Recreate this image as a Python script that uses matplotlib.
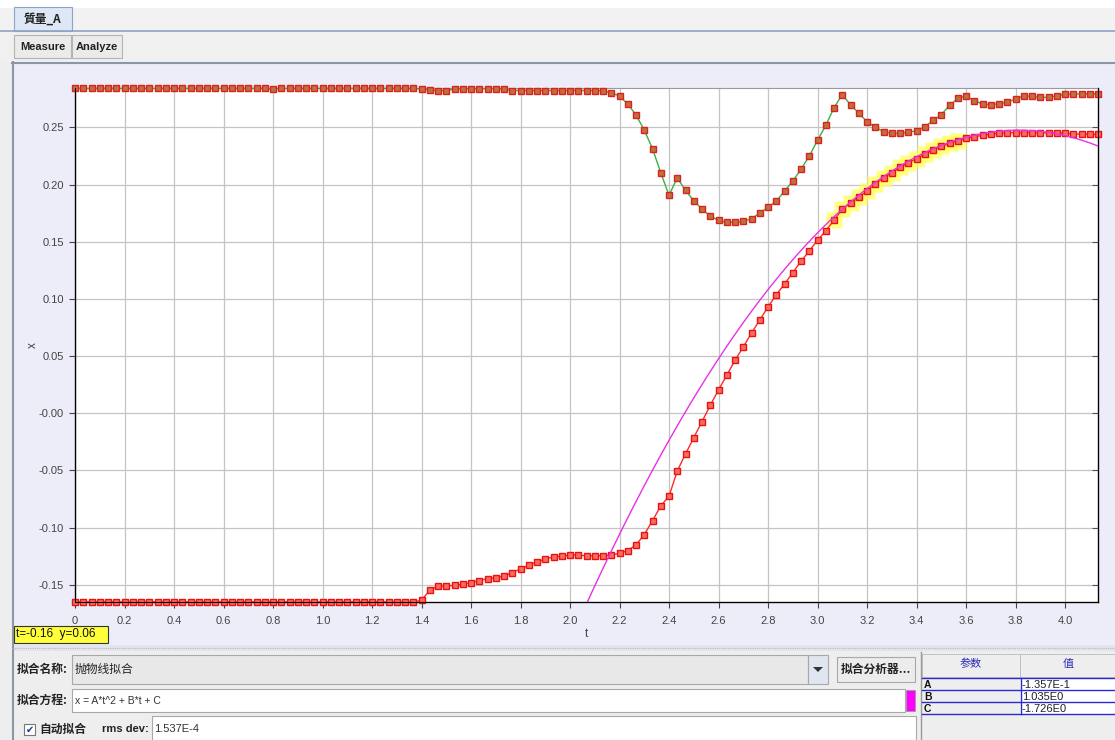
import numpy as np
import matplotlib
matplotlib.use("Agg")
import matplotlib.pyplot as plt
from matplotlib.patches import Rectangle, Polygon

plt.rcParams['font.family'] = ['Liberation Sans', 'Noto Sans CJK SC', 'DejaVu Sans']

# ---------------- data ----------------
FRAME_DT = 1.0 / 30.0   # time step between frames (s)

# lower track (x, m), frames 0..124
x_lower = [
    -0.165, -0.165, -0.165, -0.165, -0.165, -0.165, -0.165, -0.165, -0.165, -0.165,
    -0.165, -0.165, -0.165, -0.165, -0.165, -0.165, -0.165, -0.165, -0.165, -0.165,
    -0.165, -0.165, -0.165, -0.165, -0.165, -0.165, -0.165, -0.165, -0.165, -0.165,
    -0.165, -0.165, -0.165, -0.165, -0.165, -0.165, -0.165, -0.165, -0.165, -0.165,
    -0.165, -0.165, -0.1635, -0.1547, -0.1510, -0.1510, -0.1504, -0.1495, -0.1481, -0.1463,
    -0.1446, -0.1440, -0.1422, -0.1393, -0.1361, -0.1329, -0.1300, -0.1274, -0.1256, -0.1250,
    -0.1239, -0.1239, -0.1247, -0.1247, -0.1245, -0.1240, -0.1224, -0.1201, -0.1150, -0.1061,
    -0.0939, -0.0810, -0.0726, -0.0504, -0.0356, -0.0213, -0.0073, 0.0070, 0.0204, 0.0332,
    0.0463, 0.0580, 0.0702, 0.0816, 0.0929, 0.1037, 0.1130, 0.1229, 0.1329, 0.1419,
    0.1512, 0.1596, 0.1687, 0.1785, 0.1838, 0.1888, 0.1946, 0.2004, 0.2059, 0.2103,
    0.2150, 0.2191, 0.2226, 0.2267, 0.2302, 0.2334, 0.2360, 0.2383, 0.2404, 0.2418,
    0.2430, 0.2441, 0.2448, 0.2453, 0.2453, 0.2453, 0.2453, 0.2453, 0.2450, 0.2450,
    0.2450, 0.2441, 0.2441, 0.2438, 0.2438,
]

# upper track (x, m), frames 0..124
x_upper = [
    0.2840, 0.2840, 0.2840, 0.2840, 0.2840, 0.2840, 0.2840, 0.2840, 0.2840, 0.2840,
    0.2840, 0.2840, 0.2840, 0.2840, 0.2840, 0.2840, 0.2840, 0.2840, 0.2840, 0.2840,
    0.2840, 0.2840, 0.2840, 0.2840, 0.2834, 0.2840, 0.2840, 0.2840, 0.2840, 0.2840,
    0.2840, 0.2840, 0.2840, 0.2840, 0.2840, 0.2840, 0.2840, 0.2840, 0.2840, 0.2840,
    0.2840, 0.2840, 0.2834, 0.2826, 0.2820, 0.2822, 0.2834, 0.2838, 0.2838, 0.2838,
    0.2838, 0.2838, 0.2832, 0.2822, 0.2822, 0.2822, 0.2822, 0.2822, 0.2822, 0.2822,
    0.2822, 0.2822, 0.2822, 0.2820, 0.2820, 0.2802, 0.2774, 0.2704, 0.2608, 0.2476,
    0.2313, 0.2103, 0.1906, 0.2059, 0.1949, 0.1858, 0.1786, 0.1725, 0.1687, 0.1670,
    0.1670, 0.1678, 0.1701, 0.1751, 0.1801, 0.1856, 0.1941, 0.2031, 0.2133, 0.2249,
    0.2386, 0.2517, 0.2671, 0.2787, 0.2697, 0.2625, 0.2549, 0.2503, 0.2462, 0.2448,
    0.2448, 0.2456, 0.2470, 0.2503, 0.2561, 0.2610, 0.2692, 0.2753, 0.2774, 0.2733,
    0.2704, 0.2698, 0.2706, 0.2721, 0.2747, 0.2776, 0.2771, 0.2762, 0.2762, 0.2776,
    0.2788, 0.2788, 0.2794, 0.2794, 0.2794,
]

# frames selected for the fit (highlighted)
fit_first_frame = 92
fit_last_frame = 107

# fit parameters  x = A*t^2 + B*t + C
fit_A = -1.357e-1
fit_B = 1.035e0
fit_C = -1.726e0
fit_names = ["A", "B", "C"]
fit_values = ["-1.357E-1", "1.035E0", "-1.726E0"]
rms_dev = "1.537E-4"

x_ticks = [0, 0.2, 0.4, 0.6, 0.8, 1.0, 1.2, 1.4, 1.6, 1.8, 2.0, 2.2, 2.4, 2.6, 2.8,
           3.0, 3.2, 3.4, 3.6, 3.8, 4.0]
x_tick_labels = ["0", "0.2", "0.4", "0.6", "0.8", "1.0", "1.2", "1.4", "1.6", "1.8",
                 "2.0", "2.2", "2.4", "2.6", "2.8", "3.0", "3.2", "3.4", "3.6", "3.8", "4.0"]
y_ticks = [-0.15, -0.10, -0.05, 0.0, 0.05, 0.10, 0.15, 0.20, 0.25]
y_tick_labels = ["-0.15", "-0.10", "-0.05", "-0.00", "0.05", "0.10", "0.15", "0.20", "0.25"]

# ---------------- figure / helpers ----------------
W, H = 1115, 740
fig = plt.figure(figsize=(W / 100, H / 100), dpi=100)
fig.patch.set_facecolor('#eeeeee')

def fx(px):
    return px / W

def fy(py):
    return 1 - py / H

def rect(x0, y0, x1, y1, fc, ec='none', lw=0.8, z=0):
    fig.add_artist(Rectangle((fx(x0), fy(y1)), (x1 - x0) / W, (y1 - y0) / H,
                             transform=fig.transFigure, facecolor=fc, edgecolor=ec,
                             lw=lw, zorder=z))

def hline(x0, x1, py, color, lw=1.0, ls='-', z=1):
    fig.add_artist(plt.Line2D([fx(x0), fx(x1)], [fy(py), fy(py)], transform=fig.transFigure,
                              color=color, lw=lw, ls=ls, zorder=z))

def vline(px, y0, y1, color, lw=1.0, z=1):
    fig.add_artist(plt.Line2D([fx(px), fx(px)], [fy(y0), fy(y1)], transform=fig.transFigure,
                              color=color, lw=lw, zorder=z))

def text(px, py, s, size=8.5, color='#222222', weight='normal', ha='left', va='center',
         family=None, z=5, rotation=0):
    kw = {}
    if family is not None:
        kw['family'] = family
    fig.text(fx(px), fy(py), s, fontsize=size, color=color, weight=weight, ha=ha, va=va,
             zorder=z, rotation=rotation, **kw)

CJK = ['Noto Sans CJK SC', 'DejaVu Sans']

# ---------------- window chrome ----------------
rect(0, 0, W, 8, '#ffffff')
rect(0, 8, W, 31, '#f2f2f2')
rect(14, 7, 72, 31, '#dde7f5', ec='#8fa3c4', lw=0.8, z=2)
text(43, 19, "質量_A", size=8.5, weight='bold', ha='center', family=CJK, z=6)
hline(0, W, 31, '#8fa3c4', lw=1.2, z=3)
rect(0, 32, W, 62, '#f0f0f0')
rect(14, 35, 71, 58, '#ebebeb', ec='#b4b4b4', lw=0.8, z=2)
rect(72, 35, 122, 58, '#ebebeb', ec='#b4b4b4', lw=0.8, z=2)
text(43, 46.5, "Measure", size=8, weight='bold', ha='center', z=6)
text(97, 46.5, "Analyze", size=8, weight='bold', ha='center', z=6)

# plot panel
rect(12, 62, W, 646, '#ededfa', ec='none')
hline(12, W, 62.5, '#8d96a8', lw=1.5, z=3)
vline(12.5, 62, 740, '#8d96a8', lw=1.5, z=3)

# ---------------- plot ----------------
ax = fig.add_axes([fx(75), fy(602), (1098 - 75) / W, (602 - 88) / H])
ax.set_facecolor('white')

t = np.arange(len(x_lower)) * FRAME_DT
t_arr = np.asarray(t)
lo = np.asarray(x_lower)
up = np.asarray(x_upper)

# highlighted fit points
sel = slice(fit_first_frame, fit_last_frame + 1)
ax.plot(t_arr[sel], lo[sel], ls='none', marker='s', ms=12, mfc='#ffff50', mec='none',
        alpha=0.7, zorder=2, clip_on=False)

ax.plot(t_arr, up, color='#3cb043', lw=1.0, marker='s', ms=4.6, mfc='#b8743c', mec='#e02020',
        mew=1.0, zorder=4, clip_on=False)
ax.plot(t_arr, lo, color='#ff2a2a', lw=1.0, marker='s', ms=4.6, mfc='#f07060', mec='#ee1010',
        mew=1.0, zorder=4, clip_on=False)

tf = np.linspace(2.0, 4.2, 300)
ax.plot(tf, fit_A * tf ** 2 + fit_B * tf + fit_C, color='#e830e8', lw=1.0, zorder=5)

ax.set_xlim(0, 4.1333)
ax.set_ylim(-0.165, 0.2844)
ax.set_xticks(x_ticks)
ax.set_xticklabels(x_tick_labels)
ax.set_yticks(y_ticks)
ax.set_yticklabels(y_tick_labels)
ax.grid(True, color='#c4c4c4', lw=0.9)
ax.set_axisbelow(True)
ax.tick_params(axis='x', labelsize=8, colors='#444444', length=4, width=0.8, pad=6)
ax.tick_params(axis='y', labelsize=8, colors='#444444', length=4, width=0.8, pad=4)
for side in ['left', 'bottom', 'right']:
    ax.spines[side].set_color('#555555')
    ax.spines[side].set_linewidth(1.0)
ax.spines['top'].set_color('#9a9a9a')
ax.spines['top'].set_linewidth(0.8)

# inward ticks on the right edge
ax2 = ax.twinx()
ax2.set_ylim(ax.get_ylim())
ax2.set_yticks(y_ticks)
ax2.set_yticklabels([])
ax2.tick_params(axis='y', direction='in', length=4, width=0.8, colors='#555555')
ax2.spines['top'].set_visible(False)

# axis titles
text(586, 634, "t", size=8.5, color='#444444', ha='center')
text(33, 345, "x", size=8.5, color='#444444', ha='center', rotation=90)

# coordinate read-out box
rect(14, 626, 108, 643, '#ffff3a', ec='#333333', lw=0.8, z=4)
text(16, 634.5, "t=-0.16  y=0.06", size=8.5, color='#111111', z=6)

# dotted separator
rect(12, 645, W, 651, '#e4e4ec')
hline(12, W, 648, '#b8b8c8', lw=0.8, ls=(0, (1, 1)), z=3)

# ---------------- fit panel ----------------
rect(14, 652, 920, 740, '#eeeeee')
# row 1
text(17, 669, "拟合名称:", size=8.5, weight='bold', family=CJK)
rect(72, 655, 808, 684, '#e8e8e8', ec='#a8a8a8', lw=0.8, z=2)
text(75, 669, "抛物线拟合", size=8.5, family=CJK, z=6)
rect(808, 655, 828, 684, '#dfe6ef', ec='#a8a8a8', lw=0.8, z=2)
fig.add_artist(Polygon([[fx(813), fy(667)], [fx(823), fy(667)], [fx(818), fy(672)]],
                       closed=True, transform=fig.transFigure, facecolor='#333333',
                       edgecolor='none', zorder=6))
rect(837, 657, 915, 682, '#ececec', ec='#a8a8a8', lw=0.8, z=2)
text(876, 669.5, "拟合分析器...", size=8.5, weight='bold', ha='center', family=CJK, z=6)
# row 2
text(17, 700, "拟合方程:", size=8.5, weight='bold', family=CJK)
rect(72, 689, 905, 712, '#ffffff', ec='#a8a8a8', lw=0.8, z=2)
text(75, 700.5, "x = A*t^2 + B*t + C", size=7.5, color='#333333', z=6)
rect(906, 690, 915, 711, '#ff00ff', ec='#999999', lw=0.6, z=3)
# row 3
rect(24, 724, 35, 735, '#ffffff', ec='#777777', lw=0.8, z=3)
text(29.5, 729.5, "✔", size=7, color='#1a3a8a', ha='center', family=['DejaVu Sans'], z=6)
text(39, 729.5, "自动拟合", size=8.5, weight='bold', family=CJK)
text(102, 729.5, "rms dev:", size=8, weight='bold')
rect(152, 716, 916, 742, '#ffffff', ec='#a8a8a8', lw=0.8, z=2)
text(154, 729.5, rms_dev, size=8, color='#333333', z=6)

# ---------------- parameter table ----------------
rect(920, 652, W, 740, '#eeeeee')
vline(920.5, 652, 740, '#999999', lw=1.0, z=3)
rect(922, 654, 1020, 677, '#eeeeee', ec='#bbbbbb', lw=0.6, z=2)
rect(1020, 654, W + 2, 677, '#eeeeee', ec='#bbbbbb', lw=0.6, z=2)
text(971, 664, "参数", size=8, color='#2a2ab8', ha='center', family=CJK, z=6)
text(1068, 664, "值", size=8, color='#2a2ab8', ha='center', family=CJK, z=6)
row_tops = [678, 690, 702]
for name, val, y0 in zip(fit_names, fit_values, row_tops):
    rect(922, y0, 1020, y0 + 12, '#eeeeee', z=2)
    rect(1020, y0, W + 2, y0 + 12, '#ffffff', z=2)
    text(924, y0 + 6.5, name, size=7.5, weight='bold', color='#111111', z=6)
    text(1022, y0 + 6.5, val, size=8, color='#222222', z=6)
for y in [678, 690, 702, 714]:
    hline(922, W, y, '#2a2ad0', lw=1.0, z=4)
vline(1020.5, 678, 714, '#2a2ad0', lw=1.0, z=4)

fig.savefig('out.png', dpi=100, facecolor=fig.get_facecolor())
